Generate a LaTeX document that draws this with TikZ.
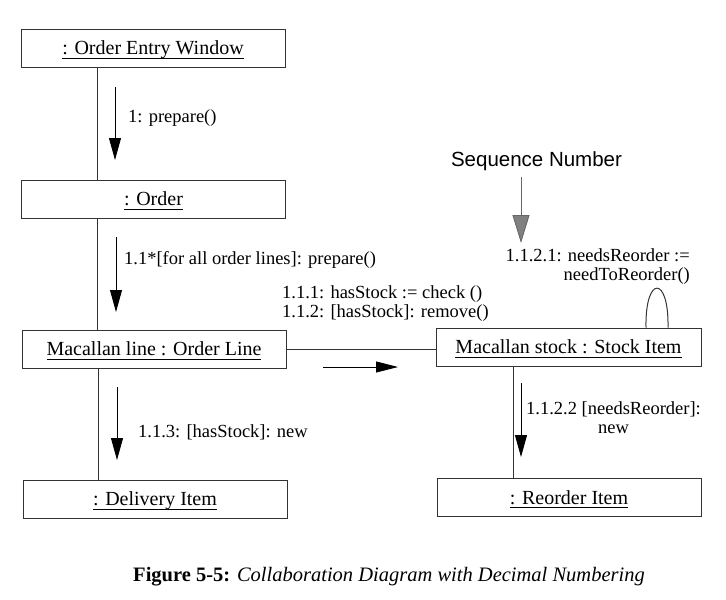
\documentclass[tikz,border=0pt]{standalone}
\usepackage{fontspec}
\setmainfont{Liberation Serif}
\setsansfont{Liberation Sans}
\usetikzlibrary{arrows.meta}
\newcommand\ulin[1]{\underline{\smash{#1}\rule[-1.5pt]{0pt}{1pt}}}
\begin{document}
\begin{tikzpicture}[x=1pt,y=-1pt,
  objbox/.style={draw=black!80,line width=1pt,rectangle,inner sep=0pt,
    text height=13.6pt,text depth=0pt,
    minimum width=264pt,minimum height=38pt,font=\fontsize{20}{22}\selectfont,text=black},
  link/.style={draw=black!80,line width=1pt},
  msg/.style={draw=black,line width=0.9pt,-{Triangle[length=22pt,width=12pt]}},
  lbl/.style={font=\fontsize{18.5}{19}\selectfont,text=black,inner sep=0pt},
  ]
\useasboundingbox (0,0) rectangle (726,600);
% objects
\node[objbox] (oew) at (153,48) {\ulin{: Order Entry Window}};
\node[objbox] (order) at (153.5,199) {\ulin{: Order}};
\node[objbox] (line) at (154,349) {\ulin{Macallan line : Order Line}};
\node[objbox] (deliv) at (155,499) {\ulin{: Delivery Item}};
\node[objbox,minimum width=265pt] (stock) at (568.5,347) {\ulin{Macallan stock : Stock Item}};
\node[objbox] (reorder) at (569,497.5) {\ulin{: Reorder Item}};
% links
\draw[link] (oew.south -| 97,0) -- (order.north -| 97,0);
\draw[link] (order.south -| 97,0) -- (line.north -| 97,0);
\draw[link] (line.south -| 98,0) -- (deliv.north -| 98,0);
\draw[link] (line.east) -- (line.east -| stock.west);
\draw[link] (stock.south -| 513,0) -- (reorder.north -| 513,0);
\draw[link] (stock.north -| 646,0) .. controls (645,275) and (669,275) .. (stock.north -| 668,0);
% message arrows
\coordinate (m1a) at (115,87);  \coordinate (m1b) at (115,160);
\coordinate (m2a) at (116,237); \coordinate (m2b) at (116,312);
\coordinate (m3a) at (117,387); \coordinate (m3b) at (117,460);
\coordinate (m4a) at (521,383); \coordinate (m4b) at (521,457);
\coordinate (m5a) at (323,367); \coordinate (m5b) at (398,367);
\draw[msg] (m1a) -- (m1b);
\draw[msg] (m2a) -- (m2b);
\draw[msg] (m3a) -- (m3b);
\draw[msg] (m4a) -- (m4b);
\draw[msg,-{Triangle[length=22pt,width=11pt]}] (m5a) -- (m5b);
% labels
\node[lbl,anchor=west] (l1) at (128,118) {1: prepare()};
\node[lbl,anchor=west] (l2) at (124,260) {1.1*[for all order lines]: prepare()};
\node[lbl,anchor=west,align=left] (l3) at (282,303.5) {1.1.1: hasStock := check ()\\1.1.2: [hasStock]: remove()};
\node[lbl,anchor=west] (l4) at (138,432) {1.1.3: [hasStock]: new};
\node[lbl,align=center] (l5) at (613.5,417.5) {1.1.2.2 [needsReorder]:\\new};
\node[lbl,anchor=east,align=right] (l6) at (690,267) {1.1.2.1: needsReorder :=\\needToReorder()};
% sequence number note
\node[font=\sffamily\fontsize{20.5}{22}\selectfont,inner sep=0pt] (seq) at (536.5,161) {Sequence Number};
\coordinate (sqa) at (521,177); \coordinate (sqb) at (521,243);
\draw[draw=black!60,line width=0.9pt,-{Triangle[length=28pt,width=17pt,fill=black!50]}] (sqa) -- (sqb);
% caption
\node[font=\fontsize{20.5}{22}\selectfont,inner sep=0pt] (cap) at (389,577) {\textbf{Figure 5-5:} \textit{Collaboration Diagram with Decimal Numbering}};
\end{tikzpicture}
\end{document}
